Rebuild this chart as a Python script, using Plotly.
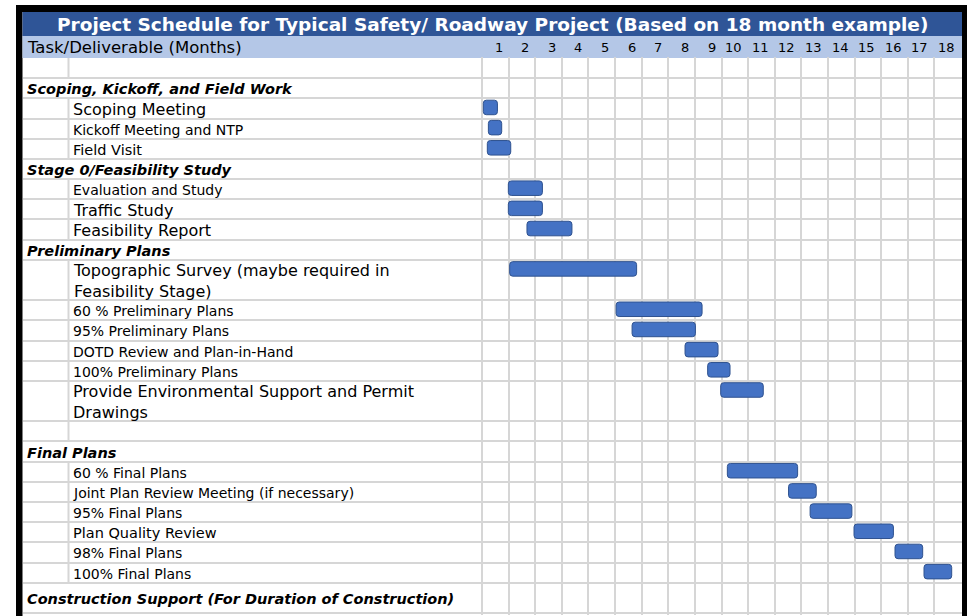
import plotly.graph_objects as go

# ---------------- data ----------------
title_text = "Project Schedule for Typical Safety/ Roadway Project (Based on 18 month example)"
header_text = "Task/Deliverable (Months)"
month_labels = [str(m) for m in range(1, 19)]

row_labels = [
    "",
    "Scoping, Kickoff, and Field Work",
    "Scoping Meeting",
    "Kickoff Meeting and NTP",
    "Field Visit",
    "Stage 0/Feasibility Study",
    "Evaluation and Study",
    "Traffic Study",
    "Feasibility Report",
    "Preliminary Plans",
    "Topographic Survey (maybe required in<br>Feasibility Stage)",
    "60 % Preliminary Plans",
    "95% Preliminary Plans",
    "DOTD Review and Plan-in-Hand",
    "100% Preliminary Plans",
    "Provide Environmental Support and Permit<br>Drawings",
    "",
    "Final Plans",
    "60 % Final Plans",
    "Joint Plan Review Meeting (if necessary)",
    "95% Final Plans",
    "Plan Quality Review",
    "98% Final Plans",
    "100% Final Plans",
    "Construction Support (For Duration of Construction)",
]
row_kinds = ["blank", "cat", "task", "task", "task", "cat", "task", "task", "task", "cat",
             "task", "task", "task", "task", "task", "task", "blank", "cat",
             "task", "task", "task", "task", "task", "task", "cat"]

bar_tasks = [
    "Scoping Meeting", "Kickoff Meeting and NTP", "Field Visit",
    "Evaluation and Study", "Traffic Study", "Feasibility Report",
    "Topographic Survey (maybe required in<br>Feasibility Stage)",
    "60 % Preliminary Plans", "95% Preliminary Plans", "DOTD Review and Plan-in-Hand",
    "100% Preliminary Plans", "Provide Environmental Support and Permit<br>Drawings",
    "60 % Final Plans", "Joint Plan Review Meeting (if necessary)", "95% Final Plans",
    "Plan Quality Review", "98% Final Plans", "100% Final Plans",
]
bar_start = [0.05, 0.24, 0.20, 0.99, 0.99, 1.69, 1.04, 5.04, 5.64, 7.63, 8.48, 8.97,
             9.22, 11.52, 12.33, 13.98, 15.52, 16.61]
bar_end = [0.58, 0.74, 1.08, 2.27, 2.27, 3.38, 5.81, 8.27, 8.02, 8.87, 9.32, 10.57,
           11.86, 12.56, 13.90, 15.46, 16.56, 17.65]

# ---------------- layout / style ----------------
W, H = 967, 616
row_span = [1, 1, 1, 1, 1, 1, 1, 1, 1, 1, 2, 1, 1, 1, 1, 2, 1, 1, 1, 1, 1, 1, 1, 1, 1.5]
row_font = [13, 14.5, 16, 14, 14.5, 14.5, 14, 16, 16, 14.5, 16, 14, 14, 14, 14,
            16, 13, 14.5, 14, 14, 14, 14.5, 14, 14, 14.5]
FONT = "DejaVu Sans"
GRID = "#D6D6D6"
TITLE_BG = "#2F5597"
HEAD_BG = "#B4C7E7"
BAR = "#4472C4"
BAR_EDGE = "#2F528F"

tops = []
t = 0.0
for s in row_span:
    tops.append(t)
    t += s
total_units = t

# pixel geometry
x_left_px, x_right_px = 22.5, 962.0
m0_px, m18_px = 482.0, 961.0
ppm = (m18_px - m0_px) / 18.0
x_range = [(x_left_px - m0_px) / ppm, 18 + (x_right_px - m18_px) / ppm]

grid_top_px, grid_bot_px = 58.0, 613.0
ppu = (grid_bot_px - grid_top_px) / total_units
dom_top_px, dom_bot_px = 57.0, 614.5
y_range = [total_units + (dom_bot_px - grid_bot_px) / ppu, -(grid_top_px - dom_top_px) / ppu]


def px(x):
    return x / W


def py(y):
    return (H - y) / H


fig = go.Figure()

# bars
ys, bases, lens = [], [], []
for name, s, e in zip(bar_tasks, bar_start, bar_end):
    i = row_labels.index(name)
    ys.append(tops[i] + 0.45)
    bases.append(s)
    lens.append(e - s)

fig.add_trace(go.Bar(
    orientation="h", y=ys, x=lens, base=bases, width=0.72,
    marker=dict(color=BAR, line=dict(color=BAR_EDGE, width=1)),
    hoverinfo="skip", showlegend=False,
))

shapes = [
    dict(type="rect", xref="paper", yref="paper", x0=px(16), x1=1.0, y0=0, y1=py(5),
         fillcolor="black", line=dict(width=0), layer="below"),
    dict(type="rect", xref="paper", yref="paper", x0=px(x_left_px), x1=px(x_right_px),
         y0=0, y1=py(12), fillcolor="white", line=dict(width=0), layer="below"),
    dict(type="rect", xref="paper", yref="paper", x0=px(x_left_px), x1=px(x_right_px),
         y0=py(36), y1=py(12), fillcolor=TITLE_BG, line=dict(width=0), layer="below"),
    dict(type="rect", xref="paper", yref="paper", x0=px(x_left_px), x1=px(x_right_px),
         y0=py(58), y1=py(36), fillcolor=HEAD_BG, line=dict(width=0), layer="below"),
]
# divider between indent column and task column
for i, kind in enumerate(row_kinds):
    if kind != "cat":
        shapes.append(dict(type="line", xref="paper", yref="y", x0=px(68.5), x1=px(68.5),
                           y0=tops[i], y1=tops[i] + row_span[i],
                           line=dict(color=GRID, width=2)))

annotations = [
    dict(text="<b>" + title_text + "</b>", xref="paper", yref="paper",
         x=px(492), y=py(24.5), xanchor="center", yanchor="middle",
         showarrow=False, font=dict(family=FONT, size=18.5, color="white")),
    dict(text=header_text, xref="paper", yref="paper", x=px(25), y=py(47.5),
         xanchor="left", yanchor="middle", showarrow=False,
         font=dict(family=FONT, size=16.5, color="black")),
]
for k, lab in enumerate(month_labels, start=1):
    annotations.append(dict(text=lab, xref="x", yref="paper", x=k - 0.15, y=py(47.5),
                            xanchor="right", yanchor="middle", showarrow=False,
                            font=dict(family=FONT, size=13, color="black")))

for i, (lab, kind) in enumerate(zip(row_labels, row_kinds)):
    if not lab:
        continue
    cy = tops[i] + row_span[i] / 2
    if kind == "cat":
        annotations.append(dict(text="<b><i>" + lab + "</i></b>", xref="paper", yref="y",
                                x=px(25), y=cy, xanchor="left", yanchor="middle",
                                yshift=-1, showarrow=False,
                                font=dict(family=FONT, size=row_font[i], color="black")))
    else:
        annotations.append(dict(text=lab, xref="paper", yref="y", x=px(71), y=cy,
                                xanchor="left", yanchor="middle", align="left",
                                yshift=-1, showarrow=False,
                                font=dict(family=FONT, size=row_font[i], color="black")))

fig.update_layout(
    width=W, height=H, margin=dict(l=0, r=0, t=0, b=0),
    paper_bgcolor="white", plot_bgcolor="white",
    barcornerradius=3,
    shapes=shapes, annotations=annotations,
    xaxis=dict(domain=[px(x_left_px), px(x_right_px)], range=x_range,
               tickmode="array", tickvals=list(range(0, 19)), showticklabels=False,
               showgrid=True, gridcolor=GRID, gridwidth=2, zeroline=False,
               showline=False, ticks="", fixedrange=True),
    yaxis=dict(domain=[py(dom_bot_px), py(dom_top_px)], range=y_range,
               tickmode="array", tickvals=tops + [total_units], showticklabels=False,
               showgrid=True, gridcolor=GRID, gridwidth=2, zeroline=False,
               showline=False, ticks="", fixedrange=True),
    showlegend=False,
)

fig.write_html("out.html", config={"displayModeBar": False},
               post_script="document.body.style.margin='0px';document.body.style.overflow='hidden';")
